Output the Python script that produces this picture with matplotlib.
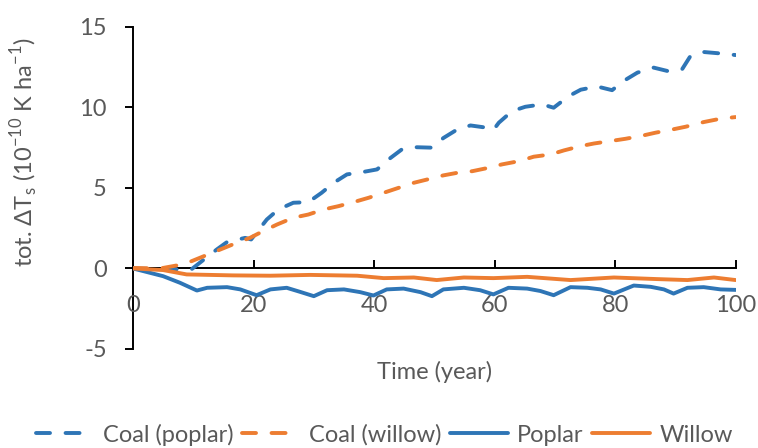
import matplotlib
matplotlib.use("Agg")
import matplotlib.pyplot as plt

plt.rcParams['font.family'] = ['Lato', 'DejaVu Sans']
plt.rcParams['axes.unicode_minus'] = False

# Coal substitution for poplar (dashed blue)
coal_poplar_x = [0, 5, 9.7, 13.9, 15.6, 18.6, 19.6, 22.2, 24.1, 26.6, 29.1, 31.3, 33.3,
                 35.5, 38.0, 40.5, 42.4, 44.6, 46.8, 49.6, 51.5, 53.8, 56.0, 58.7, 59.8,
                 60.7, 62.9, 65.1, 67.9, 69.8, 72.3, 74.3, 77.0, 79.5, 81.4, 83.7, 86.4,
                 88.7, 91.1, 92.5, 94.7, 97.8, 100]
coal_poplar_y = [0, -0.05, -0.05, 1.18, 1.64, 1.9, 1.8, 3.04, 3.66, 4.08, 4.12, 4.7, 5.32,
                 5.84, 5.98, 6.15, 6.77, 7.39, 7.53, 7.5, 8.1, 8.63, 8.88, 8.74, 8.6,
                 9.05, 9.77, 10.04, 10.19, 9.98, 10.7, 11.1, 11.3, 11.07, 11.64, 12.16, 12.47,
                 12.26, 12.36, 13.19, 13.44, 13.34, 13.25]

# Coal substitution for willow (dashed orange)
coal_willow_x = [0, 4.5, 7.3, 9.7, 12.0, 14.5, 17.2, 19.4, 21.6, 23.9, 26.6, 29.1, 31.6,
                 34.1, 36.6, 39.1, 41.6, 44.1, 46.6, 49.3, 51.5, 53.8, 56.3, 59.0, 61.2,
                 64.0, 66.5, 69.3, 71.5, 74.3, 76.5, 79.2, 81.7, 84.2, 86.7, 89.5, 91.7,
                 94.7, 97.5, 100]
coal_willow_y = [0.03, 0, 0.19, 0.45, 0.8, 1.18, 1.59, 1.9, 2.32, 2.73, 3.15, 3.35, 3.66,
                 3.87, 4.12, 4.39, 4.7, 5.01, 5.32, 5.57, 5.78, 5.94, 6.04, 6.25, 6.46,
                 6.66, 6.94, 7.08, 7.33, 7.6, 7.76, 7.91, 8.05, 8.22, 8.43, 8.63, 8.8,
                 9.09, 9.3, 9.4]

# Poplar plantation (solid blue)
poplar_x = [0, 5.0, 7.8, 10.6, 12.3, 15.6, 17.8, 20.5, 22.8, 25.5, 27.7, 30.0, 32.2,
            35.0, 37.7, 39.9, 42.1, 44.9, 47.7, 49.6, 51.5, 54.9, 57.6, 59.8, 62.3,
            65.4, 67.6, 69.8, 72.6, 75.4, 77.6, 79.8, 83.1, 85.9, 88.1, 89.7, 92.0,
            94.7, 97.5, 100]
poplar_y = [0, -0.48, -0.89, -1.37, -1.2, -1.16, -1.3, -1.66, -1.3, -1.2, -1.45, -1.72, -1.35,
            -1.3, -1.47, -1.68, -1.3, -1.25, -1.47, -1.72, -1.3, -1.2, -1.35, -1.61, -1.2,
            -1.25, -1.4, -1.66, -1.16, -1.2, -1.3, -1.56, -1.06, -1.14, -1.3, -1.56, -1.2,
            -1.16, -1.3, -1.33]

# Willow plantation (solid orange)
willow_x = [0, 5.0, 8.9, 16.6, 22.8, 29.4, 37.2, 41.6, 46.6, 50.4, 54.9, 59.8, 65.4,
            72.6, 79.8, 87.0, 92.0, 96.4, 100]
willow_y = [0, -0.1, -0.37, -0.43, -0.45, -0.4, -0.45, -0.6, -0.56, -0.72, -0.56, -0.6, -0.52,
            -0.72, -0.56, -0.66, -0.72, -0.56, -0.72]

x_ticks = [0, 20, 40, 60, 80, 100]
y_ticks = [-5, 0, 5, 10, 15]

blue = '#2E75B6'
orange = '#ED7D31'
grey = '#595959'
fs = 17

fig = plt.figure(figsize=(7.58, 4.48), dpi=100)
ax = fig.add_axes([0.1755, 0.221, 0.795, 0.719])

lw = 2.8
dash = (3.6, 4.0)
ax.plot(coal_poplar_x, coal_poplar_y, color=blue, lw=lw, dashes=dash,
        dash_capstyle='round', dash_joinstyle='round', label='Coal (poplar)', zorder=2)
ax.plot(coal_willow_x, coal_willow_y, color=orange, lw=lw, dashes=dash,
        dash_capstyle='round', dash_joinstyle='round', label='Coal (willow)', zorder=2)
ax.plot(poplar_x, poplar_y, color=blue, lw=lw, solid_capstyle='round',
        solid_joinstyle='round', label='Poplar', zorder=2)
ax.plot(willow_x, willow_y, color=orange, lw=lw, solid_capstyle='round',
        solid_joinstyle='round', label='Willow', zorder=2)

ax.set_xlim(0, 100)
ax.set_ylim(-5, 15)
ax.set_xticks(x_ticks)
ax.set_yticks(y_ticks)

ax.spines['top'].set_visible(False)
ax.spines['right'].set_visible(False)
ax.spines['bottom'].set_position(('data', 0))
for s in ('left', 'bottom'):
    ax.spines[s].set_linewidth(1.4)
    ax.spines[s].set_color('black')
    ax.spines[s].set_zorder(1)

ax.tick_params(axis='x', direction='in', length=6, width=1.4, colors='black',
               labelcolor=grey, labelsize=fs, pad=19)
ax.tick_params(axis='y', direction='out', length=6, width=1.4, colors='black',
               labelcolor=grey, labelsize=fs, pad=13)

ax.set_xlabel('Time (year)', fontsize=fs, color=grey, va='center')
ax.xaxis.set_label_coords(0.5, -0.071)
ax.set_ylabel(r'tot. ΔT$_\mathregular{s}$ (10$^\mathregular{-10}$ K ha$^\mathregular{-1}$)',
              fontsize=fs, color=grey, va='center')
ax.yaxis.set_label_coords(-0.179, 0.61)

leg = fig.legend(loc='center', bbox_to_anchor=(0.507, 0.03), ncol=4, frameon=False,
                 fontsize=fs, handlelength=2.45, handletextpad=0.4, columnspacing=0.35,
                 labelcolor=grey)

fig.savefig('out.png', dpi=100)
